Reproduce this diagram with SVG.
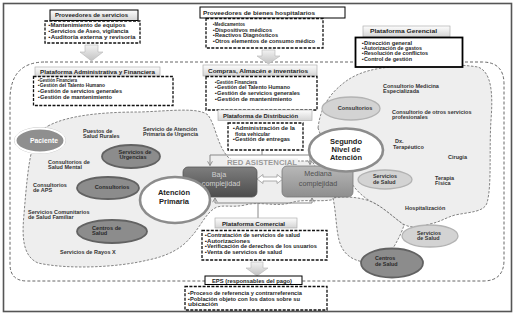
<svg xmlns="http://www.w3.org/2000/svg" width="516" height="317" viewBox="0 0 516 317">
<defs>
<linearGradient id="gl" x1="0" y1="0" x2="0" y2="1"><stop offset="0" stop-color="#fdfdfd"/><stop offset="1" stop-color="#d4d4d4"/></linearGradient>
<linearGradient id="ga" x1="0" y1="0" x2="0" y2="1"><stop offset="0" stop-color="#f2f2f2"/><stop offset="1" stop-color="#c2c2c2"/></linearGradient>
<linearGradient id="gb" x1="0" y1="0" x2="0" y2="1"><stop offset="0" stop-color="#7e7e7e"/><stop offset="1" stop-color="#4c4c4c"/></linearGradient>
<linearGradient id="gm" x1="0" y1="0" x2="0" y2="1"><stop offset="0" stop-color="#b8b8b8"/><stop offset="1" stop-color="#8e8e8e"/></linearGradient>
<marker id="v" viewBox="0 0 10 10" refX="8" refY="5" markerWidth="6" markerHeight="6" markerUnits="userSpaceOnUse" orient="auto"><path d="M1,1 L8,5 L1,9" fill="none" stroke="#888" stroke-width="1.5"/></marker>
</defs>
<style>
.t{font-family:"Liberation Sans",Arial,sans-serif;font-weight:bold;fill:#1e1e1e}
.it{font-size:5.2px}
.lb{font-size:6px}
.cl{font-size:5.5px;fill:#333}
.big{font-size:7.5px;fill:#222}
.dash{fill:#fff;stroke:#111;stroke-width:1.3;stroke-dasharray:3 1.4}
.lbox{fill:url(#gl);stroke:#b0b0b0;stroke-width:0.7}
.sbox{fill:#fff;stroke:#000;stroke-width:1}
.cloud{fill:#eeeeee;stroke:#666;stroke-width:0.8;stroke-dasharray:2.5 1.5}
.dk{fill:#8c8c8c;stroke:#626262;stroke-width:1.8}
.lt{fill:#d3d3d3;stroke:#b3b3b3;stroke-width:1.3}
.circ{fill:#fff;stroke:#8c8c8c;stroke-width:2.6}
.conn{fill:none;stroke:#888;stroke-width:1}
.blk{fill:url(#ga);stroke:#b5b5b5;stroke-width:0.6}
</style>
<rect x="0" y="0" width="516" height="317" fill="#fff"/>
<rect x="3.5" y="3.5" width="508" height="308" fill="none" stroke="#555" stroke-width="1.6"/>
<path d="M45,62 H482 Q504,62 504,84 V260 Q504,281 483,281 H27 Q10,281 10,264 V100 Q10,62 45,62 Z" fill="none" stroke="#555" stroke-width="0.9" stroke-dasharray="3 2"/>

<g id="clouds">
<path class="cloud" d="M48,126 C70,114 110,112 140,112 C170,111 198,107 208,115 C216,126 217,145 228,157 C230,159 232,160 234,161 L312,161 L336,199 C320,203 305,198 290,203 C275,207 260,201 245,205 C232,208 222,204 215,208 C205,214 200,228 190,238 C182,248 168,256 148,260 C120,267 70,270 38,263 C22,256 22,235 24,214 C26,190 28,165 32,150 C35,138 40,130 48,126 Z"/>
<path class="cloud" d="M333,198 C336,212 336,228 339,240 C342,252 350,260 364,262 L392,250 C398,240 402,232 404,225 C392,216 382,206 370,201 C358,197 345,196 333,198 Z"/>
<path class="cloud" d="M318,128 C320,110 328,96 340,86 C350,77 362,71 382,68 C412,64 452,63 478,67 C492,72 493,95 491,120 C489,150 492,185 487,203 C484,212 470,212 455,215 C445,218 440,222 430,224 C418,228 410,228 403,224 C392,216 382,206 370,201 C362,196 356,190 352,184 L330,160 Z"/>
</g>

<g id="connectors">
<polygon class="blk" points="85,45 98,45 98,52 103,52 91.5,61 80,52 85,52"/>
<polygon class="blk" points="262,50 275,50 275,56 280,56 268.5,64 257,56 262,56"/>
<polygon class="blk" points="251,262 263,262 263,268 268,268 257,276 246,268 251,268"/>
<path class="conn" d="M262,150 V155 M210,155 H310"/>
<path class="conn" d="M210,155 V165.5" marker-end="url(#v)"/>
<path class="conn" d="M310,155 V164.5" marker-end="url(#v)"/>
<path class="conn" d="M258,218 V203 M215,203 H312"/>
<path class="conn" d="M215,203 V198" marker-end="url(#v)"/>
<path class="conn" d="M312,203 V198" marker-end="url(#v)"/>
<polygon points="257,179 263,174.5 263,177 277,177 277,174.5 283,179 277,183.5 277,181 263,181 263,183.5" fill="#fff" stroke="#999" stroke-width="0.8"/>
<rect x="226" y="158.5" width="72" height="6" fill="#f2f2f2"/>
<text class="t" x="262" y="164.8" text-anchor="middle" font-size="7" fill="#9a9a9a" style="fill:#9a9a9a" textLength="70" lengthAdjust="spacingAndGlyphs">RED ASISTENCIAL</text>
</g>

<g id="proveedores-servicios">
<rect class="sbox" x="50" y="10" width="88" height="10.5" style="fill:url(#gl)"/>
<text class="t lb" x="55" y="17.3" textLength="73" lengthAdjust="spacingAndGlyphs">Proveedores  de servicios</text>
<rect class="dash" x="45" y="21" width="95" height="22"/>
<text class="t it" x="48.5" y="27" textLength="77" lengthAdjust="spacingAndGlyphs">▪Mantenimiento de equipos</text>
<text class="t it" x="48.5" y="33" textLength="80" lengthAdjust="spacingAndGlyphs">▪Servicios de Aseo, vigilancia</text>
<text class="t it" x="48.5" y="39" textLength="87" lengthAdjust="spacingAndGlyphs">▪Auditoría externa y revisoría</text>
</g>

<g id="plataforma-administrativa">
<rect class="lbox" x="35" y="67" width="125" height="9.5"/>
<text class="t lb" x="40" y="74.3" textLength="115" lengthAdjust="spacingAndGlyphs">Plataforma Administrativa  y Financiera</text>
<rect class="dash" x="33.5" y="76.5" width="139.5" height="29"/>
<text class="t it" x="38" y="82" textLength="39" lengthAdjust="spacingAndGlyphs">▪Gestión Financiera</text>
<text class="t it" x="38" y="87.2" textLength="67" lengthAdjust="spacingAndGlyphs">▪Gestión del Talento Humano</text>
<text class="t it" x="38" y="92.8" textLength="84" lengthAdjust="spacingAndGlyphs">▪Gestión de servicios generales</text>
<text class="t it" x="38" y="98.6" textLength="74" lengthAdjust="spacingAndGlyphs">▪Gestión de mantenimiento</text>
</g>

<g id="proveedores-bienes">
<rect class="sbox" x="200" y="7" width="145" height="11"/>
<text class="t lb" x="203" y="14.5" textLength="112" lengthAdjust="spacingAndGlyphs">Proveedores  de bienes hospitalarios</text>
<rect class="dash" x="206" y="18.5" width="117" height="29.5"/>
<text class="t it" x="213" y="26" textLength="32" lengthAdjust="spacingAndGlyphs">▪Medicamentos</text>
<text class="t it" x="213" y="31.5" textLength="59" lengthAdjust="spacingAndGlyphs">▪Dispositivos médicos</text>
<text class="t it" x="213" y="37" textLength="65" lengthAdjust="spacingAndGlyphs">▪Reactivos Diagnósticos</text>
<text class="t it" x="213" y="42.8" textLength="102" lengthAdjust="spacingAndGlyphs">▪Otros elementos de consumo médico</text>
</g>

<g id="compras">
<rect class="lbox" x="203" y="65" width="114" height="11"/>
<text class="t lb" x="208" y="73" textLength="100" lengthAdjust="spacingAndGlyphs">Compras,  Almacén e inventarios</text>
<rect class="dash" x="206" y="76.5" width="111" height="33.5"/>
<text class="t it" x="215" y="83.5" textLength="42" lengthAdjust="spacingAndGlyphs">▪Gestión Financiera</text>
<text class="t it" x="215" y="89" textLength="75" lengthAdjust="spacingAndGlyphs">▪Gestión del Talento Humano</text>
<text class="t it" x="215" y="94.7" textLength="85" lengthAdjust="spacingAndGlyphs">▪Gestión de servicios generales</text>
<text class="t it" x="215" y="100.5" textLength="77" lengthAdjust="spacingAndGlyphs">▪Gestión de mantenimiento</text>
</g>

<g id="plataforma-distribucion">
<rect class="lbox" x="218" y="110" width="94" height="10.5"/>
<text class="t lb" x="223" y="117.6" textLength="75" lengthAdjust="spacingAndGlyphs">Plataforma de Distribución</text>
<rect class="dash" x="228" y="123" width="75" height="27"/>
<text class="t it" x="233" y="130" textLength="62" lengthAdjust="spacingAndGlyphs">▪Administración de la</text>
<text class="t it" x="235" y="135.5" textLength="35" lengthAdjust="spacingAndGlyphs">flota vehicular</text>
<text class="t it" x="233" y="141" textLength="57" lengthAdjust="spacingAndGlyphs">▪Gestión de entregas</text>
</g>

<g id="plataforma-gerencial">
<rect class="lbox" x="363" y="26" width="87" height="11"/>
<text class="t lb" x="370" y="33.3" textLength="67" lengthAdjust="spacingAndGlyphs">Plataforma Gerencial</text>
<rect x="355.5" y="37.5" width="107" height="29.5" fill="#fff" stroke="#000" stroke-width="1.8"/>
<text class="t it" x="362" y="45" textLength="50" lengthAdjust="spacingAndGlyphs">▪Dirección general</text>
<text class="t it" x="362" y="50.2" textLength="60" lengthAdjust="spacingAndGlyphs">▪Autorización de gastos</text>
<text class="t it" x="362" y="55.4" textLength="66" lengthAdjust="spacingAndGlyphs">▪Resolución de conflictos</text>
<text class="t it" x="362" y="61" textLength="50" lengthAdjust="spacingAndGlyphs">▪Control de gestión</text>
</g>

<g id="plataforma-comercial">
<rect class="lbox" x="215" y="218" width="82" height="10"/>
<text class="t lb" x="222" y="225.5" textLength="63" lengthAdjust="spacingAndGlyphs">Plataforma Comercial</text>
<rect class="dash" x="202" y="230.5" width="125" height="29.5"/>
<text class="t it" x="205" y="237" textLength="95" lengthAdjust="spacingAndGlyphs">▪Contratación de servicios de salud</text>
<text class="t it" x="205" y="242.6" textLength="45" lengthAdjust="spacingAndGlyphs">▪Autorizaciones</text>
<text class="t it" x="205" y="248.4" textLength="112" lengthAdjust="spacingAndGlyphs">▪Verificación de derechos de los usuarios</text>
<text class="t it" x="205" y="254" textLength="77" lengthAdjust="spacingAndGlyphs">▪Venta de servicios de salud</text>
</g>

<g id="eps">
<rect class="sbox" x="205" y="276" width="97" height="8.5"/>
<text class="t lb" x="212" y="282.6" textLength="80" lengthAdjust="spacingAndGlyphs">EPS (responsables del pago)</text>
<rect class="dash" x="185" y="286.5" width="142" height="23.5"/>
<text class="t it" x="188" y="295" textLength="114" lengthAdjust="spacingAndGlyphs">▪Proceso de referencia y contrarreferencia</text>
<text class="t it" x="188" y="300.5" textLength="112" lengthAdjust="spacingAndGlyphs">▪Población objeto con los datos sobre su</text>
<text class="t it" x="188" y="306.2" textLength="30" lengthAdjust="spacingAndGlyphs">ubicación</text>
</g>

<g id="baja-complejidad">
<rect x="183" y="167" width="74" height="30" rx="5" fill="url(#gb)" stroke="#555" stroke-width="0.8"/>
<text x="219" y="176.5" text-anchor="middle" font-family="Liberation Sans, Arial, sans-serif" font-size="7.2" fill="#d0d0d0">Baja</text>
<text x="221" y="186" text-anchor="middle" font-family="Liberation Sans, Arial, sans-serif" font-size="7.2" fill="#d0d0d0">complejidad</text>
</g>

<g id="mediana-complejidad">
<rect x="282" y="166" width="71" height="31" rx="5" fill="url(#gm)" stroke="#7a7a7a" stroke-width="0.8"/>
<text x="318" y="176" text-anchor="middle" font-family="Liberation Sans, Arial, sans-serif" font-size="7.2" fill="#505050">Mediana</text>
<text x="318" y="185.5" text-anchor="middle" font-family="Liberation Sans, Arial, sans-serif" font-size="7.2" fill="#505050">complejidad</text>
</g>

<g id="texts-primaria">
<text class="t cl" x="83" y="132.5">Puestos de</text>
<text class="t cl" x="83" y="137.5">Salud Rurales</text>
<text class="t cl" x="143" y="130.5">Servicio de Atención</text>
<text class="t cl" x="143" y="136">Primaria de Urgencia</text>
<text class="t cl" x="48" y="164">Consultorios de</text>
<text class="t cl" x="48" y="168.7">Salud Mental</text>
<text class="t cl" x="33" y="187">Consultorios</text>
<text class="t cl" x="33" y="192">de APS</text>
<text class="t cl" x="28" y="213.5">Servicios Comunitarios</text>
<text class="t cl" x="28" y="218.7">de Salud Familiar</text>
<text class="t cl" x="60" y="253.5">Servicios de Rayos X</text>
</g>

<g id="texts-segundo">
<text class="t cl" x="383" y="87.5">Consultorio Medicina</text>
<text class="t cl" x="383" y="92.5">Especializada</text>
<text class="t cl" x="392" y="113.5">Consultorio de otros servicios</text>
<text class="t cl" x="392" y="118.7">profesionales</text>
<text class="t cl" x="395" y="142.5">Dx.</text>
<text class="t cl" x="393" y="148.5">Terapéutico</text>
<text class="t cl" x="448" y="158.5">Cirugía</text>
<text class="t cl" x="435" y="179.5">Terapia</text>
<text class="t cl" x="435" y="185">Física</text>
<text class="t cl" x="405" y="209.5">Hospitalización</text>
</g>

<g id="paciente">
<ellipse cx="40" cy="140.5" rx="25.5" ry="13" fill="none" stroke="#c8c8c8" stroke-width="1"/>
<ellipse cx="40" cy="140.5" rx="24.5" ry="12" fill="#8f8f8f" stroke="#fff" stroke-width="2"/>
<text class="t" x="44" y="142.8" text-anchor="middle" font-size="6.8" style="fill:#fff">Paciente</text>
</g>

<g id="servicios-urgencias">
<ellipse class="dk" cx="131" cy="156.5" rx="29" ry="11.5"/>
<text class="t" x="135" y="153.5" text-anchor="middle" font-size="5.6" style="fill:#2a2a2a">Servicios de</text>
<text class="t" x="133" y="158.8" text-anchor="middle" font-size="5.6" style="fill:#2a2a2a">Urgencias</text>
</g>

<g id="consultorios-primaria">
<ellipse class="dk" cx="108" cy="188" rx="31" ry="11"/>
<text class="t" x="112" y="188.5" text-anchor="middle" font-size="5.6" style="fill:#2a2a2a">Consultorios</text>
</g>

<g id="centros-salud-primaria">
<ellipse class="dk" cx="112" cy="231.5" rx="35" ry="11.5"/>
<text class="t" x="92" y="229.5" font-size="5.6" style="fill:#2a2a2a">Centros de</text>
<text class="t" x="92" y="235" font-size="5.6" style="fill:#2a2a2a">Salud</text>
</g>

<g id="atencion-primaria">
<ellipse class="circ" cx="175" cy="200" rx="35" ry="23"/>
<text class="t big" x="174" y="195" text-anchor="middle">Atención</text>
<text class="t big" x="174" y="204" text-anchor="middle">Primaria</text>
</g>

<g id="consultorios-segundo">
<ellipse class="lt" cx="351" cy="108.5" rx="29" ry="11.5"/>
<text class="t" x="355" y="109.5" text-anchor="middle" font-size="5.6" style="fill:#333">Consultorios</text>
</g>

<g id="segundo-nivel">
<ellipse class="circ" cx="346" cy="150" rx="37" ry="21.5"/>
<text class="t big" x="346" y="144" text-anchor="middle">Segundo</text>
<text class="t big" x="346" y="152" text-anchor="middle">Nivel de</text>
<text class="t big" x="346" y="160" text-anchor="middle">Atención</text>
</g>

<g id="servicios-salud-1">
<ellipse class="lt" cx="385" cy="179.5" rx="27" ry="9.5"/>
<text class="t" x="373" y="178" font-size="5.4" style="fill:#333">Servicios</text>
<text class="t" x="373" y="183.5" font-size="5.4" style="fill:#333">de Salud</text>
</g>

<g id="servicios-salud-2">
<ellipse class="lt" cx="430" cy="236" rx="28" ry="11"/>
<text class="t" x="417" y="234.5" font-size="5.4" style="fill:#333">Servicios</text>
<text class="t" x="417" y="240" font-size="5.4" style="fill:#333">de Salud</text>
</g>

<g id="centros-salud-segundo">
<ellipse class="dk" cx="392" cy="263" rx="31" ry="14.5"/>
<text class="t" x="375" y="260" font-size="5.4" style="fill:#2a2a2a">Centros</text>
<text class="t" x="375" y="265.5" font-size="5.4" style="fill:#2a2a2a">de Salud</text>
</g>
</svg>
